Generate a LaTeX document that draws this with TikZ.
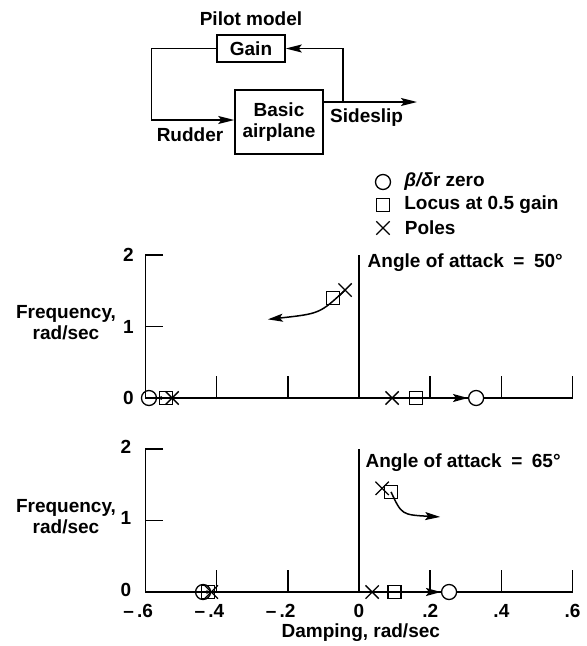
\documentclass[tikz,border=0pt]{standalone}
\usepackage{fontspec}
\setmainfont{Liberation Sans}
\usetikzlibrary{positioning,arrows.meta,shapes.misc}
\tikzset{txt/.style={font=\fontsize{19}{21}\selectfont\bfseries,inner sep=0pt}}
\tikzset{box/.style={txt,draw,line width=1.5pt,align=center,inner sep=3pt}}
\tikzset{arr/.style={line width=1.5pt,-{Stealth[length=16pt,width=8pt,inset=3pt]}}}
\tikzset{parr/.style={line width=1.5pt,-{Stealth[length=15pt,width=8pt,inset=3pt]}}}
\tikzset{axis/.style={line width=1.5pt}}
\tikzset{zero/.style={circle,draw,line width=1.3pt,minimum size=15pt,inner sep=0pt}}
\tikzset{locus/.style={rectangle,draw,line width=1.3pt,minimum size=13pt,inner sep=0pt}}
\tikzset{pole/.style={cross out,draw,line width=1.3pt,minimum size=12pt,inner sep=0pt}}

\begin{document}
\begin{tikzpicture}[x=1pt,y=-1pt]
    \useasboundingbox (0,0) rectangle (587,646);
    % block diagram
    \node[box,minimum width=68pt,minimum height=27pt] (gain) at (251,48.5) {Gain};
    \node[txt,above=8pt of gain] (pilot) {Pilot model};
    \node[box,minimum width=88pt,minimum height=64pt] (plane) at (279,122) {Basic\\airplane};
    \coordinate (ss) at (417,102);
    \coordinate (br) at (343,102);
        \draw[arr] (plane.east |- ss) -- (ss);
        \draw[arr] (br) |- (gain.east);
        \draw[arr] (gain.west) -- ++(-65,0) |- ([yshift=2pt]plane.west);
    \node[txt] (rudder) at (190,135) {Rudder};
    \node[txt,anchor=north west] (sideslip) at (330,109) {Sideslip};
    % legend
    \node[zero] (kz) at (383,182) {};
    \node[locus] (kl) at (383,205) {};
    \node[pole] (kp) at (383,228) {};
    \node[txt,right=13pt of kz] {\itshape β/δ\upshape r zero};
    \node[txt,right=14pt of kl] {Locus at 0.5 gain};
    \node[txt,right=15pt of kp] {Poles};
    % alpha = 50
    \begin{scope}[shift={(359,398)},x=356pt,y=71.5pt]
        \draw[axis] (-0.55,2) -- (-0.6,2) -- (-0.6,0) -- (0.6,0) -- (0.6,0.31);
        \draw[axis] (-0.6,1) -- (-0.55,1);
        \foreach \t in {-0.4,-0.2,0.2,0.4}
            \draw[axis] (\t,0) -- (\t,0.31);
        \draw[axis] (0,0) -- (0,2);
        \foreach \v in {0,1,2}
            \node[txt] at (-0.648,\v) {\v};
        \node[txt,align=center] at (-0.823,1.06) {Frequency,\\rad/sec};
        \node[txt,anchor=west] at (0.024,1.89) {Angle of attack\enspace=\enspace50°};
        \node[pole] (p1) at (-0.039,1.51) {};
        \node[locus] (l1) at (-0.073,1.40) {};
        \coordinate (t1) at (-0.256,1.10);
            \draw[parr] (p1.center) .. controls (-0.11,1.18) .. (t1);
        \node[zero] (z2) at (-0.59,0) {};
        \node[locus] (l2) at (-0.542,0) {};
        \node[pole] (p2) at (-0.525,0) {};
            \draw[line width=1pt,-{Stealth[length=5pt,width=4pt]}] (l2.west) -- (z2.east);
        \node[pole] (p3) at (0.093,0) {};
        \node[locus] (l3) at (0.16,0) {};
        \node[zero,fill=white] (z3) at (0.329,0) {};
            \draw[parr] (l3.east) -- (z3.west);
    \end{scope}
    % alpha = 65
    \begin{scope}[shift={(359,592)},x=356pt,y=71.5pt]
        \draw[axis] (-0.55,2) -- (-0.6,2) -- (-0.6,0) -- (0.6,0) -- (0.6,0.31);
        \draw[axis] (-0.6,1) -- (-0.55,1);
        \foreach \t in {-0.4,-0.2,0.2,0.4}
            \draw[axis] (\t,0) -- (\t,0.31);
        \draw[axis] (0,0) -- (0,2);
        \foreach \v in {0,1,2}
            \node[txt] at (-0.655,\v+0.03) {\v};
        \foreach \t/\s in {-0.6/\textendash\,.6,-0.4/\textendash\,.4,-0.2/\textendash\,.2}
            \node[txt] at (\t-0.02,-0.27) {\s};
        \foreach \t/\s in {0/0,0.2/.2,0.4/.4,0.6/.6}
            \node[txt] at (\t,-0.27) {\s};
        \node[txt] at (0.005,-0.57) {Damping, rad/sec};
        \node[txt,align=center] at (-0.823,1.06) {Frequency,\\rad/sec};
        \node[txt,anchor=west] at (0.018,1.81) {Angle of attack\enspace=\enspace65°};
        \node[pole] (p4) at (0.065,1.45) {};
        \node[locus] (l4) at (0.09,1.40) {};
        \coordinate (t4) at (0.228,1.05);
            \draw[parr] (l4.center) .. controls (0.12,1.08) .. (t4);
        \node[zero] (z5) at (-0.438,0) {};
        \node[locus] (l5) at (-0.425,0) {};
        \node[pole] (p5) at (-0.415,0) {};
            \draw[line width=1pt,-{Stealth[length=5pt,width=4pt]}] (l5.center) -- (z5.east);
        \node[pole] (p6) at (0.037,0) {};
        \node[locus] (l6) at (0.10,0) {};
        \node[zero,fill=white] (z6) at (0.253,0) {};
            \draw[parr] (l6.east) -- (z6.west);
    \end{scope}
\end{tikzpicture}
\end{document}
